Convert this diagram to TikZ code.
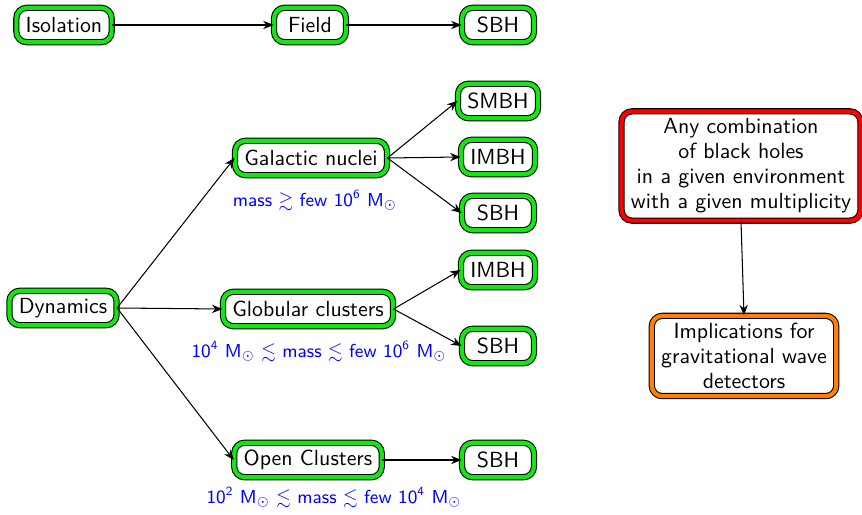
\documentclass[tikz,border=0pt]{standalone}
\usepackage{fontspec}
\usepackage{amssymb}
\usetikzlibrary{arrows.meta}
\definecolor{boxgreen}{RGB}{20,230,20}
\definecolor{boxorange}{RGB}{255,128,0}
\tikzset{
  envbox/.style={draw=black, line width=0.5pt, double=#1, double distance=2pt, fill=white,
    rounded corners=5pt, font=\sffamily\fontsize{10.5}{12}\selectfont, inner xsep=4.5pt, inner ysep=3.5pt,
    minimum height=16.5pt, minimum width=34.5pt, align=center},
  envbox/.default=boxgreen,
  conn/.style={-{Stealth[length=5pt,width=4pt]}, line width=0.5pt},
  masslabel/.style={text=blue, font=\sffamily\small}
}
\begin{document}
\begin{tikzpicture}[x=0.48pt,y=-0.48pt]
\useasboundingbox (0,0) rectangle (862,515);
\node[envbox] (iso) at (64,25) {Isolation};
\node[envbox] (field) at (310,25) {Field};
\node[envbox] (sbh0) at (498,25) {SBH};

\node[envbox] (dyn) at (63,308) {Dynamics};
\node[envbox] (gn) at (311,158) {Galactic nuclei};
\node[envbox] (gc) at (308,309) {Globular clusters};
\node[envbox] (oc) at (308,460) {Open Clusters};

\node[envbox] (smbh) at (498,101) {SMBH};
\node[envbox] (imbh1) at (498,157) {IMBH};
\node[envbox] (sbh1) at (498,213) {SBH};
\node[envbox] (imbh2) at (498,270) {IMBH};
\node[envbox] (sbh2) at (498,346) {SBH};
\node[envbox] (sbh3) at (498,460) {SBH};

\node[masslabel] (l1) at (315,200) {mass $\gtrsim$ few 10\textsuperscript{6} M$_\odot$};
\node[masslabel] (l2) at (319,351) {10\textsuperscript{4} M$_\odot$ $\lesssim$ mass $\lesssim$ few 10\textsuperscript{6} M$_\odot$};
\node[masslabel] (l3) at (334,497) {10\textsuperscript{2} M$_\odot$ $\lesssim$ mass $\lesssim$ few 10\textsuperscript{4} M$_\odot$};

\node[envbox=red] (any) at (741,166) {Any combination\\of black holes\\in a given environment\\with a given multiplicity};
\node[envbox=boxorange] (impl) at (744,356) {Implications for\\gravitational wave\\detectors};

\draw[conn] (iso) -- (field);
\draw[conn] (field) -- (sbh0);
\draw[conn] (dyn.east) -- (gn.west);
\draw[conn] (dyn.east) -- (gc.west);
\draw[conn] (dyn.east) -- (oc.west);
\draw[conn] (gn.east) -- (smbh.west);
\draw[conn] (gn.east) -- (imbh1.west);
\draw[conn] (gn.east) -- (sbh1.west);
\draw[conn] (gc.east) -- (imbh2.west);
\draw[conn] (gc.east) -- (sbh2.west);
\draw[conn] (oc.east) -- (sbh3.west);
\draw[conn] (any.south) -- (impl.north);
\end{tikzpicture}
\end{document}
